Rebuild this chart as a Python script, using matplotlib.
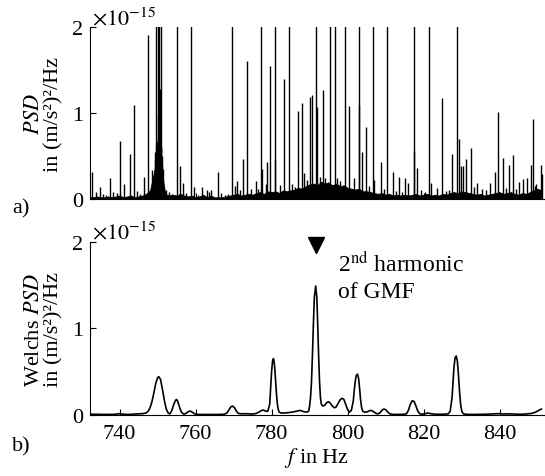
import numpy as np
import matplotlib.pyplot as plt

plt.rcParams['font.family'] = ['Liberation Serif', 'DejaVu Serif']
plt.rcParams['mathtext.fontset'] = 'stix'
plt.rcParams['font.size'] = 16

# all PSD values in units of 1e-15 (m/s^2)^2/Hz

# a) raw PSD: background level (read every 1 Hz) and single lines
floor_f = list(range(732, 852))
floor_psd = [0.03, 0.02, 0.03, 0.02, 0.02, 0.03, 0.02, 0.03, 0.04, 0.02,
             0.03, 0.04, 0.02, 0.03, 0.04, 0.06, 0.10, 0.30, 0.55, 0.35,
             0.06, 0.04, 0.05, 0.04, 0.06, 0.04, 0.03, 0.04, 0.02, 0.03,
             0.05, 0.02, 0.04, 0.02, 0.02, 0.02, 0.03, 0.04, 0.05, 0.06,
             0.04, 0.05, 0.06, 0.05, 0.07, 0.08, 0.06, 0.09, 0.08, 0.09,
             0.07, 0.10, 0.09, 0.10, 0.11, 0.13, 0.12, 0.15, 0.17, 0.18,
             0.16, 0.20, 0.18, 0.19, 0.16, 0.18, 0.15, 0.16, 0.13, 0.12,
             0.11, 0.12, 0.09, 0.09, 0.08, 0.07, 0.06, 0.07, 0.05, 0.06,
             0.04, 0.05, 0.04, 0.05, 0.04, 0.05, 0.06, 0.04, 0.05, 0.06,
             0.04, 0.05, 0.04, 0.06, 0.05, 0.07, 0.08, 0.07, 0.09, 0.08,
             0.07, 0.06, 0.05, 0.06, 0.04, 0.05, 0.06, 0.07, 0.08, 0.06,
             0.07, 0.08, 0.06, 0.05, 0.07, 0.06, 0.08, 0.10, 0.12, 0.10]

spike_f = [732.8, 733.9, 734.8, 737.4, 738.3, 740.1, 741.2, 742.7, 743.8, 746.4,
           747.5, 748.6, 749.0, 749.2, 749.3, 749.4, 749.5, 749.6, 749.7, 749.8,
           749.9, 750.0, 750.1, 750.2, 750.3, 750.4, 750.5, 750.6, 750.7, 750.8,
           750.9, 751.0, 751.1, 751.2, 751.3, 752.2, 755.0, 756.0, 756.7, 758.7,
           759.6, 761.6, 762.9, 764.0, 765.9, 769.6, 770.3, 770.8, 772.4, 773.4,
           774.7, 775.8, 777.1, 777.4, 778.4, 778.7, 779.6, 780.8, 781.0, 783.3,
           784.5, 787.0, 788.1, 788.5, 790.1, 790.7, 791.8, 792.0, 793.4, 795.5,
           796.6, 799.2, 800.3, 801.8, 802.9, 803.0, 803.9, 804.9, 806.6, 807.0,
           808.7, 810.3, 811.9, 813.5, 815.0, 816.0, 817.4, 817.6, 818.2, 821.3,
           822.0, 823.5, 824.9, 827.6, 828.7, 829.4, 829.8, 830.5, 831.3, 832.4,
           834.1, 837.6, 838.7, 839.7, 840.8, 842.4, 843.6, 845.0, 846.1, 847.2,
           848.2, 848.8, 849.7, 850.8, 851.2,
           # smaller lines on top of the background
           735.6, 736.5, 739.2, 744.6, 745.3, 753.1, 753.9, 757.5, 760.7, 763.4,
           766.8, 767.7, 768.5, 771.6, 776.3, 782.2, 785.3, 786.1, 789.3, 792.7,
           794.1, 794.8, 797.3, 798.1, 805.6, 809.5, 812.7, 814.3, 819.3, 820.4,
           825.8, 826.7, 833.2, 835.4, 836.5, 841.6, 844.4, 849.2]
spike_psd = [0.31, 0.085, 0.14, 0.25, 0.085, 0.68, 0.17, 0.52, 1.10, 0.26,
             1.91, 0.34, 0.20, 0.30, 0.45, 0.55, 2.50, 0.62, 0.50, 0.60,
             0.66, 0.97, 0.70, 2.50, 0.58, 2.50, 0.64, 1.28, 0.55, 2.50,
             0.60, 0.60, 0.50, 0.40, 0.35, 0.10, 2.50, 0.39, 0.19, 2.50,
             0.14, 0.14, 0.10, 0.10, 0.32, 2.50, 0.155, 0.21, 0.47, 1.61,
             0.12, 0.21, 2.50, 0.35, 0.17, 0.43, 1.55, 2.50, 0.45, 1.40,
             2.50, 1.03, 1.12, 0.30, 1.19, 1.21, 2.50, 1.07, 1.27, 2.50,
             2.50, 2.50, 1.08, 0.24, 2.50, 1.10, 0.55, 0.84, 2.50, 0.22,
             0.43, 2.50, 0.32, 0.26, 0.24, 0.19, 0.56, 2.50, 0.36, 2.50,
             0.19, 0.13, 1.18, 0.52, 2.50, 0.70, 0.39, 0.38, 0.47, 0.59,
             0.19, 0.19, 0.31, 1.01, 0.48, 0.40, 0.51, 0.20, 0.23, 0.24,
             0.40, 0.93, 0.17, 0.40, 0.29,
             0.06, 0.05, 0.07, 0.09, 0.06, 0.08, 0.06, 0.07, 0.05, 0.08,
             0.07, 0.05, 0.06, 0.10, 0.12, 0.16, 0.18, 0.14, 0.22, 0.26,
             0.24, 0.20, 0.25, 0.21, 0.15, 0.12, 0.09, 0.08, 0.10, 0.08,
             0.09, 0.11, 0.14, 0.12, 0.10, 0.13, 0.12, 0.15]

# b) Welch PSD
welch_f = [732, 734, 736, 738, 739, 740, 741, 742, 743, 744, 745, 746, 747,
           747.5, 748, 748.5, 749, 749.5, 750, 750.3, 750.75, 751.25, 751.75,
           752.25, 752.75, 753.25, 753.75, 754.25, 754.75, 755.0, 755.25,
           755.75, 756.25, 756.75, 757.25, 757.75, 758.25, 758.75, 759.25,
           759.75, 760.5, 762, 764, 766, 767.5, 768.25, 768.75, 769.25,
           769.75, 770.25, 770.75, 771.25, 772, 773, 774, 775, 776, 777,
           777.75, 778.5, 779, 779.5, 779.75, 780.0, 780.25, 780.5, 780.75,
           781.0, 781.25, 781.5, 781.75, 782.0, 782.5, 783.5, 784.5, 785.5,
           786.5, 787.5, 788.5, 789.25, 789.75, 790.0, 790.25, 790.5, 790.75,
           791.0, 791.25, 791.6, 791.9, 792.1, 792.35, 792.6, 792.85, 793.1,
           793.5, 794.0, 794.5, 795.0, 795.5, 796.0, 796.5, 797.0, 797.5,
           798.0, 798.5, 799.0, 799.5, 800.0, 800.5, 801.0, 801.5, 801.75,
           802.0, 802.25, 802.6, 802.9, 803.15, 803.4, 803.7, 804.0, 804.5,
           805.0, 805.5, 806.0, 806.5, 807.0, 807.5, 808.0, 808.5, 809.0,
           809.5, 810.0, 810.5, 811.0, 811.5, 812.5, 813.5, 814.5, 815.5,
           816.0, 816.5, 817.0, 817.5, 818.0, 818.5, 819.0, 819.5, 820.5,
           821.0, 821.5, 822.5, 823.5, 824.5, 825.5, 826.5, 827.0, 827.5,
           827.75, 828.0, 828.3, 828.6, 828.9, 829.2, 829.5, 829.8, 830.1,
           830.5, 831.5, 833, 835, 837, 838.5, 840, 841, 842.5, 844, 845.5,
           847, 848.5, 849.5, 850.3, 851]
welch_psd = [0.005, 0.005, 0.003, 0.004, 0.006, 0.012, 0.006, 0.003, 0.004,
             0.008, 0.01, 0.012, 0.02, 0.04, 0.08, 0.15, 0.25, 0.36, 0.43,
             0.44, 0.41, 0.30, 0.17, 0.07, 0.02, 0.01, 0.05, 0.12, 0.17, 0.175,
             0.16, 0.09, 0.03, 0.01, 0.01, 0.025, 0.04, 0.04, 0.025, 0.01,
             0.003, 0.002, 0.002, 0.003, 0.005, 0.02, 0.055, 0.09, 0.10, 0.08,
             0.04, 0.015, 0.01, 0.012, 0.01, 0.008, 0.015, 0.04, 0.055, 0.04,
             0.04, 0.12, 0.30, 0.50, 0.62, 0.65, 0.58, 0.43, 0.26, 0.13, 0.06,
             0.03, 0.02, 0.02, 0.025, 0.03, 0.04, 0.05, 0.035, 0.03, 0.04,
             0.10, 0.20, 0.38, 0.69, 1.05, 1.36, 1.49, 1.36, 1.10, 0.72, 0.40,
             0.20, 0.12, 0.10, 0.11, 0.14, 0.15, 0.13, 0.10, 0.08, 0.09, 0.13,
             0.17, 0.19, 0.18, 0.12, 0.06, 0.03, 0.05, 0.16, 0.28, 0.38, 0.45,
             0.47, 0.42, 0.31, 0.18, 0.08, 0.04, 0.03, 0.03, 0.04, 0.05, 0.045,
             0.03, 0.015, 0.01, 0.02, 0.05, 0.065, 0.06, 0.035, 0.015, 0.005,
             0.003, 0.003, 0.004, 0.01, 0.05, 0.12, 0.16, 0.155, 0.10, 0.04,
             0.012, 0.005, 0.012, 0.02, 0.015, 0.008, 0.005, 0.005, 0.006,
             0.01, 0.04, 0.20, 0.38, 0.55, 0.66, 0.68, 0.62, 0.45, 0.25, 0.10,
             0.035, 0.01, 0.004, 0.003, 0.004, 0.006, 0.01, 0.012, 0.008, 0.01,
             0.008, 0.005, 0.008, 0.015, 0.03, 0.05, 0.065]

gmf2_f = 791.6
xlim = (732.2, 851.7)
ylim = (0, 2)
ylabel_unit = 'in (m/s²)²/Hz'


def style_axes(ax):
    ax.set_xlim(*xlim)
    ax.set_ylim(*ylim)
    ax.set_yticks([0, 1, 2])
    ax.set_xticks([740, 760, 780, 800, 820, 840])
    ax.spines['top'].set_visible(False)
    ax.spines['right'].set_visible(False)
    ax.tick_params(direction='in', length=4, width=0.8)
    ax.tick_params(axis='x', pad=7)
    ax.tick_params(axis='y', pad=5)
    ax.text(0.005, 0.99, r'$\times10^{-15}$', transform=ax.transAxes,
            ha='left', va='bottom', fontsize=16)


fig = plt.figure(figsize=(5.45, 4.77), dpi=100)
ax1 = fig.add_axes([90 / 545, 0.5807, 454 / 545, 0.36])
ax2 = fig.add_axes([90 / 545, 0.1285, 454 / 545, 0.362])

ax1.fill_between(floor_f, 0, floor_psd, color='k', lw=0.6)
ax1.vlines(spike_f, 0, spike_psd, color='k', lw=1.0)
style_axes(ax1)
ax1.set_xticklabels([])
ax1.set_ylabel('$\\mathit{PSD}$\n' + ylabel_unit, linespacing=1.05, labelpad=6)

ax2.plot(welch_f, welch_psd, color='k', lw=1.2)
style_axes(ax2)
ax2.set_ylabel('Welchs $\\mathit{PSD}$\n' + ylabel_unit, linespacing=1.05,
               labelpad=6)
ax2.set_xlabel('$\\mathit{f}$ in Hz', labelpad=1)

ax2.plot([gmf2_f], [1.97], marker='v', color='k', ms=12, clip_on=False)
ax2.text(797.5, 1.9, '2$^{\\mathrm{nd}}$ harmonic\nof GMF', ha='left', va='top',
         fontsize=17, linespacing=1.35)

fig.text(12 / 545, 1 - 209 / 477, 'a)', ha='left', va='center', fontsize=16)
fig.text(12 / 545, 1 - 447 / 477, 'b)', ha='left', va='center', fontsize=16)

fig.savefig('out.png', dpi=100)
